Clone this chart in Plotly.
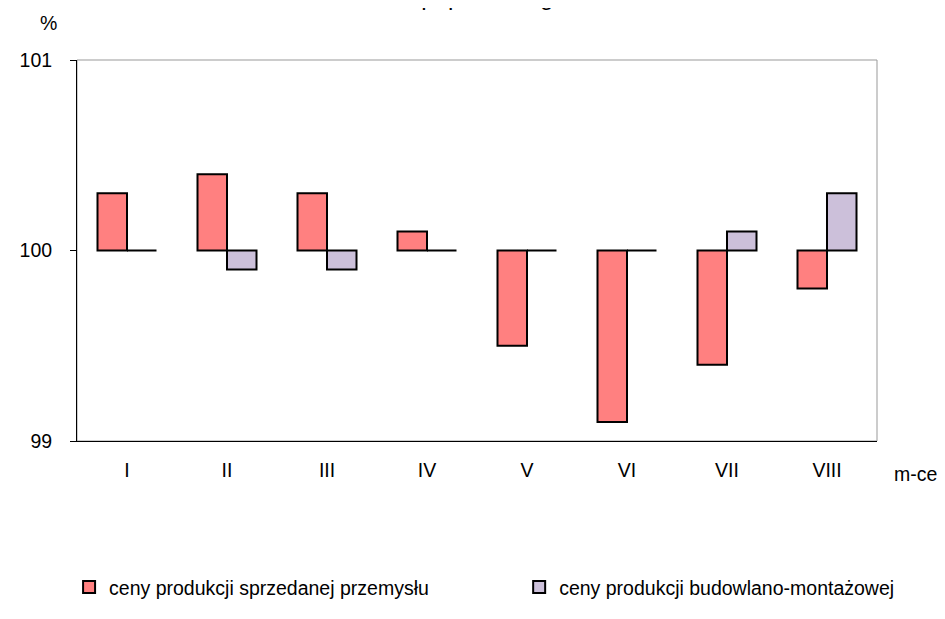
import plotly.graph_objects as go

months = ["I", "II", "III", "IV", "V", "VI", "VII", "VIII"]
przemysl = [100.3, 100.4, 100.3, 100.1, 99.5, 99.1, 99.4, 99.8]
budownictwo = [100.0, 99.9, 99.9, 100.0, 100.0, 100.0, 100.1, 100.3]
series_names = ["ceny produkcji sprzedanej przemysłu", "ceny produkcji budowlano-montażowej"]
y_ticks = [99, 100, 101]
base_value = 100

FONT = "Liberation Sans, Arial, sans-serif"
FS = 19.5

fig = go.Figure()
fig.add_trace(go.Bar(
    x=months, y=[v - base_value for v in przemysl], base=base_value,
    name=series_names[0], legend="legend",
    marker=dict(color="#FF8080", line=dict(color="black", width=2)),
))
fig.add_trace(go.Bar(
    x=months, y=[v - base_value for v in budownictwo], base=base_value,
    name=series_names[1], legend="legend2",
    marker=dict(color="#CCC0DA", line=dict(color="black", width=2)),
))

legend_common = dict(orientation="h", xanchor="left", y=-0.384, yanchor="middle",
                     font=dict(size=FS), bgcolor="rgba(0,0,0,0)")

fig.update_layout(
    width=937, height=611,
    margin=dict(l=53, r=68, t=52, b=163),
    paper_bgcolor="white", plot_bgcolor="white",
    font=dict(family=FONT, size=FS, color="black"),
    barmode="group", bargap=0.41, bargroupgap=0,
    showlegend=True,
    legend=dict(x=-0.0099, **legend_common),
    legend2=dict(x=0.5527, **legend_common),
    xaxis=dict(type="category", showline=True, linecolor="black", linewidth=1,
               ticks="", showgrid=False, zeroline=False, ticklabelstandoff=12,
               range=[-0.5, len(months) - 0.5]),
    xaxis2=dict(overlaying="x", anchor="free", position=0.5, type="linear",
                range=[-0.5, len(months) - 0.5], showline=True, linecolor="black",
                linewidth=1, ticks="outside", ticklen=5, tickcolor="black",
                tickvals=[i + 0.5 for i in range(len(months) - 1)],
                showticklabels=False, showgrid=False, zeroline=False),
    yaxis=dict(range=[99, 101], tickvals=y_ticks, ticktext=[str(t) for t in y_ticks],
               showline=True, linecolor="black", linewidth=1,
               ticks="outside", ticklen=6, tickcolor="black",
               showgrid=False, zeroline=False, ticklabelstandoff=14),
    shapes=[dict(type="rect", xref="paper", yref="paper", x0=0, x1=1, y0=0, y1=1,
                 line=dict(color="#999999", width=1), layer="below")],
    annotations=[
        dict(text="do poprzedniego", xref="paper", yref="paper", x=0.5, y=1.126,
             xanchor="center", yanchor="bottom", showarrow=False, font=dict(size=24)),
        dict(text="%", xref="paper", yref="paper", x=-0.0355, y=1.096,
             xanchor="center", yanchor="middle", showarrow=False, font=dict(size=FS)),
        dict(text="m-ce", xref="paper", yref="paper", x=1.048, y=-0.086,
             xanchor="center", yanchor="middle", showarrow=False, font=dict(size=FS)),
    ],
)

fig.write_html("out.html")
